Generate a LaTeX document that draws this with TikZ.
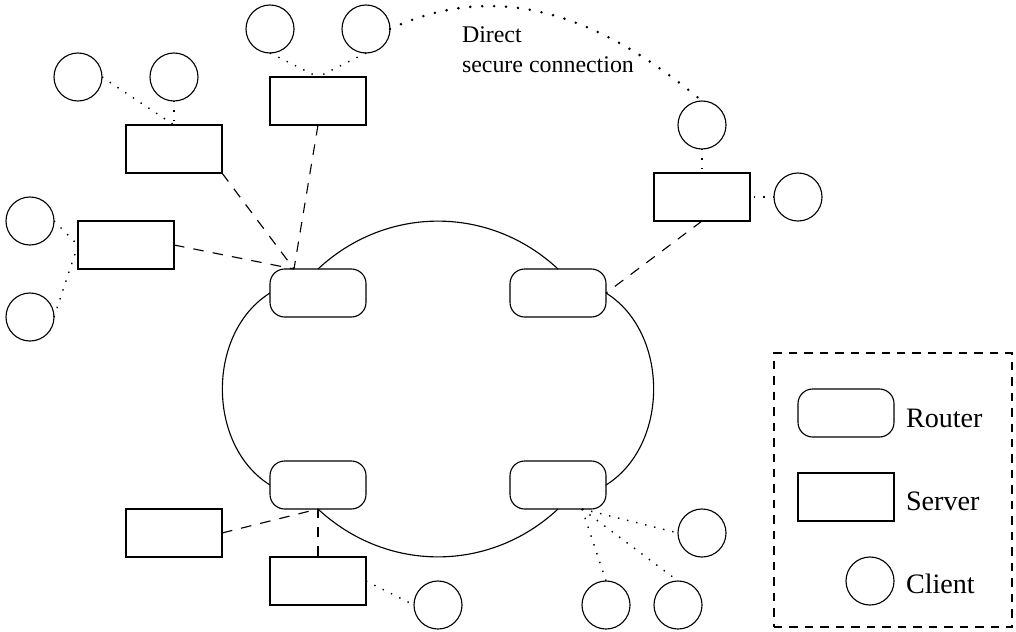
\documentclass[tikz,border=0pt]{standalone}
\usepackage{fontspec}
\setmainfont{Liberation Serif}
\usetikzlibrary{calc}
\begin{document}
\begin{tikzpicture}[x=0.025cm, y=-0.025cm,
  every node/.style={inner sep=0pt, outer sep=0pt},
  router/.style={draw, line width=0.8pt, fill=white, rounded corners=10.5pt,
                 minimum width=2.4cm, minimum height=1.2cm},
  server/.style={draw, line width=0.8pt, fill=white,
                 minimum width=2.4cm, minimum height=1.2cm},
  client/.style={draw, line width=0.8pt, fill=white, circle, minimum size=1.2cm},
  ring/.style={line width=0.8pt},
  uplink/.style={line width=0.8pt, dash pattern=on 7.5pt off 6.5pt},
  access/.style={line width=1pt, dash pattern=on 1pt off 5.6pt},
  secure/.style={line width=2pt, line cap=round, dash pattern=on 0pt off 8.5pt},
  nettext/.style={font=\fontsize{17pt}{21pt}\selectfont, anchor=base west},
  legendtext/.style={font=\fontsize{20pt}{24pt}\selectfont, anchor=base west},
  legendframe/.style={draw, line width=0.8pt, dash pattern=on 6pt off 5pt,
                      minimum width=5.95cm, minimum height=6.85cm}]
\useasboundingbox (0,0) rectangle (1016,631);

% core routers
\node[router] (R1) at (318,293) {};
\node[router] (R2) at (558,293) {};
\node[router] (R3) at (318,485) {};
\node[router] (R4) at (558,485) {};

% backbone ring
\draw[ring] (R1.north) to[bend left=43] (R2.north);
\draw[ring] (R2.east)  to[bend left=58] (R4.east);
\draw[ring] (R4.south) to[bend left=43] (R3.south);
\draw[ring] (R3.west)  to[bend left=58] (R1.west);

% servers
\node[server] (S1) at (174,149) {};
\node[server] (S2) at (318,101) {};
\node[server] (S3) at (126,245) {};
\node[server] (S4) at (702,197) {};
\node[server] (S5) at (174,533) {};
\node[server] (S6) at (318,581) {};

% clients
\node[client] (C1)  at (270,29)  {};
\node[client] (C2)  at (366,29)  {};
\node[client] (C3)  at (78,77)   {};
\node[client] (C4)  at (174,77)  {};
\node[client] (C5)  at (30,221)  {};
\node[client] (C6)  at (30,317)  {};
\node[client] (C7)  at (702,125) {};
\node[client] (C8)  at (798,197) {};
\node[client] (C9)  at (438,605) {};
\node[client] (C10) at (702,533) {};
\node[client] (C11) at (606,605) {};
\node[client] (C12) at (678,605) {};

\coordinate (hub) at ($(R1.north west)!0.25!(R1.north east)$);
\coordinate (fan) at ($(R4.south west)!0.75!(R4.south east)$);

% server uplinks
\draw[uplink] (S1.south east) -- (hub);
\draw[uplink] (S2.south) -- (hub);
\draw[uplink] (S3.east) -- (hub);
\draw[uplink] (S4.south) -- (R2.east);
\draw[uplink] (S5.east) -- (R3.south);
\draw[uplink] (S6.north) -- (R3.south);

% client access links
\draw[access] (C1.south) -- (S2.north);
\draw[access] (C2.south) -- (S2.north);
\draw[access] (C3.east) -- (S1.north);
\draw[access] (C4.south) -- (S1.north);
\draw[access] (C5.east) -- (S3.west);
\draw[access] (C6.east) -- (S3.west);
\draw[access] (C7.south) -- (S4.north);
\draw[access] (C8.west) -- (S4.east);
\draw[access] (S6.east) -- (C9.west);
\draw[access] (fan) -- (C10.west);
\draw[access] (fan) -- (C11.north);
\draw[access] (fan) -- (C12.north);

% direct secure connection
\draw[secure] (C2.east) to[out=25, in=140] (C7.north);
\node[nettext] (t1) at (462,42) {Direct};
\node[nettext] (t2) at (462,72) {secure connection};

% legend
\node[legendframe] (legend) at (893,490) {};
\node[router] (LR) at (846,413) {};
\node[server] (LS) at (846,497) {};
\node[client] (LC) at (870,581) {};
\node[legendtext] (LRt) at (906,427) {Router};
\node[legendtext] (LSt) at (906,510) {Server};
\node[legendtext] (LCt) at (906,593) {Client};
\end{tikzpicture}
\end{document}
